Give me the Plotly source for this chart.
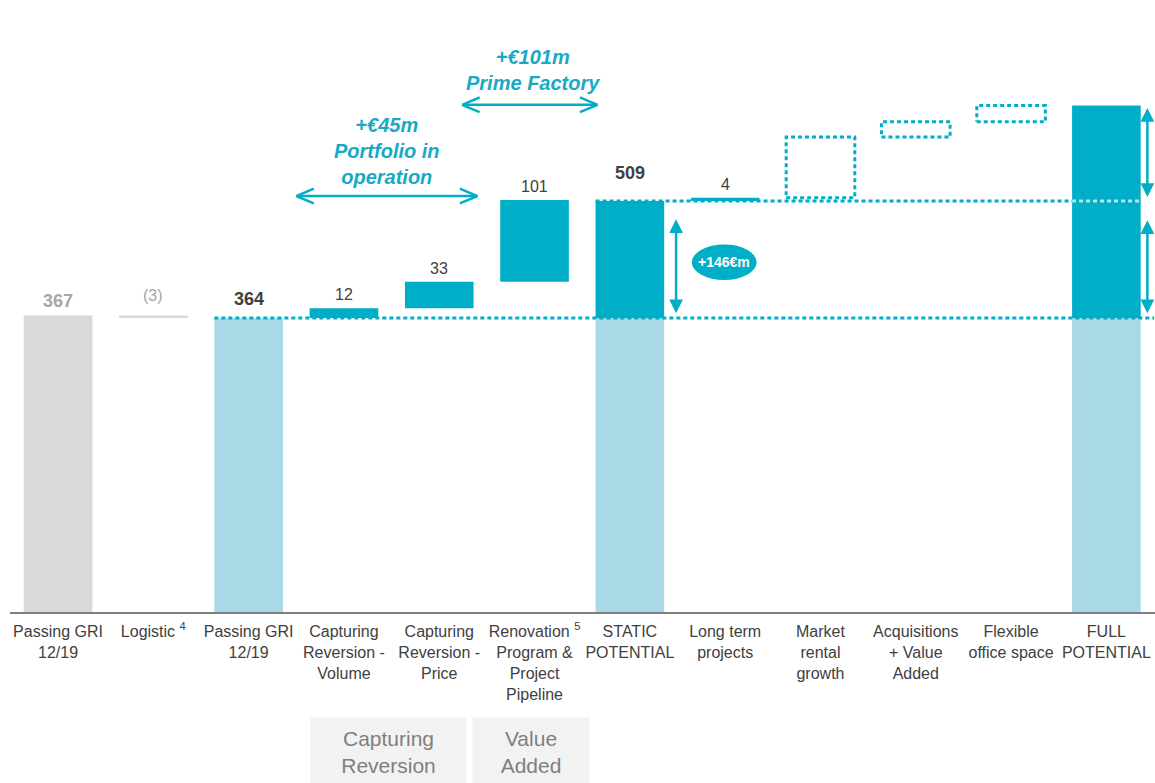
import plotly.graph_objects as go

# Waterfall data (EUR m)
categories = [
    "Passing GRI<br>12/19", "Logistic <sup>4</sup>", "Passing GRI<br>12/19",
    "Capturing<br>Reversion -<br>Volume", "Capturing<br>Reversion -<br>Price",
    "Renovation <sup>5</sup><br>Program &<br>Project<br>Pipeline",
    "STATIC<br>POTENTIAL", "Long term<br>projects", "Market<br>rental<br>growth",
    "Acquisitions<br>+ Value<br>Added", "Flexible<br>office space", "FULL<br>POTENTIAL",
]
values = [367, -3, 364, 12, 33, 101, 509, 4, 75, 19, 20, 627]
kinds = ["start", "delta", "total", "delta", "delta", "delta", "total",
         "delta", "open", "open", "open", "total"]
value_labels = ["367", "(3)", "364", "12", "33", "101", "509", "4", "", "", "", ""]
label_bold = [True, False, True, False, False, False, True, False, False, False, False, False]

TEAL = "#00aec7"
LIGHT = "#a9d9e6"
GREY = "#d9d9d9"
TXT = "#404040"
W = 0.72

x = list(range(len(categories)))

# work out bar bases
running = 0
retained = values[2]
tops, bottoms = [], []
for v, k in zip(values, kinds):
    if k == "start":
        lo, hi = 0, v
        running = v
    elif k == "total":
        lo, hi = (0, v) if running == 0 else (min(retained, v), v)
        running = v
    else:
        lo, hi = sorted([running, running + v])
        running += v
    bottoms.append(lo)
    tops.append(hi)

fig = go.Figure()

# grey start + logistic
grey_idx = [0, 1]
fig.add_trace(go.Bar(
    x=grey_idx, base=[bottoms[i] for i in grey_idx],
    y=[tops[i] - bottoms[i] for i in grey_idx],
    width=W, marker_color=GREY, marker_line_width=0,
))

# light blue retained part under totals
tot_idx = [i for i, k in enumerate(kinds) if k == "total"]
fig.add_trace(go.Bar(
    x=tot_idx, base=[0] * len(tot_idx), y=[retained] * len(tot_idx),
    width=W, marker_color=LIGHT, marker_line_width=0,
))

# teal increments / totals above 364
teal_idx = [i for i, k in enumerate(kinds) if (k == "delta" and i > 1) or (k == "total" and i > 2)]
fig.add_trace(go.Bar(
    x=teal_idx, base=[bottoms[i] for i in teal_idx],
    y=[tops[i] - bottoms[i] for i in teal_idx],
    width=W, marker_color=TEAL, marker_line_width=0,
))

dot = dict(color=TEAL, width=3, dash="4px,3px")

# dotted outline boxes for potential upside
for i, k in enumerate(kinds):
    if k == "open":
        fig.add_trace(go.Scatter(
            x=[i - W / 2, i + W / 2, i + W / 2, i - W / 2, i - W / 2],
            y=[bottoms[i], bottoms[i], tops[i], tops[i], bottoms[i]],
            mode="lines", line=dot,
        ))

# dotted reference lines at 364 and 509
fig.add_trace(go.Scatter(x=[2 - W / 2, 11.5], y=[retained, retained], mode="lines", line=dot))
fig.add_trace(go.Scatter(x=[6 - W / 2, 11 + W / 2], y=[values[6], values[6]], mode="lines", line=dot))
fig.add_trace(go.Scatter(x=[11 - W / 2, 11 + W / 2], y=[values[6], values[6]], mode="lines",
                         line=dict(color="rgba(255,255,255,0.7)", width=3, dash="4px,3px")))

ann = []
# value labels
for i, t in enumerate(value_labels):
    if not t:
        continue
    if label_bold[i]:
        col = "#a6a6a6" if i == 0 else TXT
        txt, size = f"<b>{t}</b>", 18
        shift = {0: 3, 2: 7, 6: 16}[i]
    else:
        col = "#a6a6a6" if i == 1 else TXT
        txt, size = t, 16
        shift = 10 if i == 1 else 3
    ann.append(dict(x=i, y=tops[i], text=txt, showarrow=False, yanchor="bottom",
                    yshift=shift, font=dict(size=size, color=col)))


def darrow(x0, y0, x1, y1, head=2):
    return dict(x=x1, y=y1, ax=x0, ay=y0, xref="x", yref="y", axref="x", ayref="y",
                text="", showarrow=True, arrowside="end+start", arrowhead=head,
                arrowsize=1.1, arrowwidth=2.5, arrowcolor=TEAL)


def chevron_arrow(x0, x1, y):
    # horizontal shaft with open chevron heads at both ends
    out = [dict(x=x1, y=y, ax=x0, ay=y, xref="x", yref="y", axref="x", ayref="y",
                text="", showarrow=True, arrowhead=0, arrowwidth=2.5, arrowcolor=TEAL)]
    for xt, d in ((x0, 1), (x1, -1)):
        for dy in (-8, 8):
            out.append(dict(x=xt, y=y, ax=19 * d, ay=dy, xref="x", yref="y",
                            text="", showarrow=True, arrowhead=0, arrowwidth=2.5,
                            arrowcolor=TEAL))
    return out


ann += chevron_arrow(2.5, 4.4, 515)
ann += chevron_arrow(4.24, 5.66, 628)
ann.append(darrow(6.485, 488, 6.485, 370))
ann.append(darrow(11.43, 512, 11.43, 624))
ann.append(darrow(11.43, 368, 11.43, 485))

ann.append(dict(x=3.45, y=571, text="<b><i>+€45m<br>Portfolio in<br>operation</i></b>",
                showarrow=False, font=dict(size=20, color="#17a9c5")))
ann.append(dict(x=4.98, y=671, text="<b><i>+€101m<br>Prime Factory</i></b>",
                showarrow=False, font=dict(size=20, color="#17a9c5")))
ann.append(dict(x=6.99, y=433, text="<b>+146€m</b>", showarrow=False,
                font=dict(size=14, color="white")))

# grouping boxes under the axis
for cx, label, bw in ((3.47, "Capturing<br>Reversion", 153), (4.96, "Value<br>Added", 114)):
    ann.append(dict(x=cx, y=-0.296, xref="x", yref="paper", yanchor="bottom", text=label,
                    showarrow=False, bgcolor="#f2f2f2", width=bw, height=66,
                    font=dict(size=21, color="#7f7f7f")))

fig.add_shape(type="circle", xref="x", yref="y", x0=6.65, x1=7.33, y0=411, y1=455,
              fillcolor=TEAL, line_width=0, layer="below")

fig.update_layout(
    width=1155, height=783,
    margin=dict(l=10, r=0, t=20, b=171),
    plot_bgcolor="white", paper_bgcolor="white",
    showlegend=False, barmode="overlay",
    font=dict(family="Liberation Sans, Arial, sans-serif", color=TXT),
    annotations=ann,
)
fig.update_xaxes(range=[-0.504, 11.51], tickvals=x, ticktext=categories,
                 tickfont=dict(size=16, color=TXT), showgrid=False, zeroline=False,
                 showline=True, linecolor="#7f7f7f", linewidth=2, ticks="",
                 ticklabelstandoff=4)
fig.update_yaxes(range=[0, 733], visible=False, showgrid=False)

fig.write_html("out.html", config={"displayModeBar": False},
               post_script="document.body.style.margin='0px';")
